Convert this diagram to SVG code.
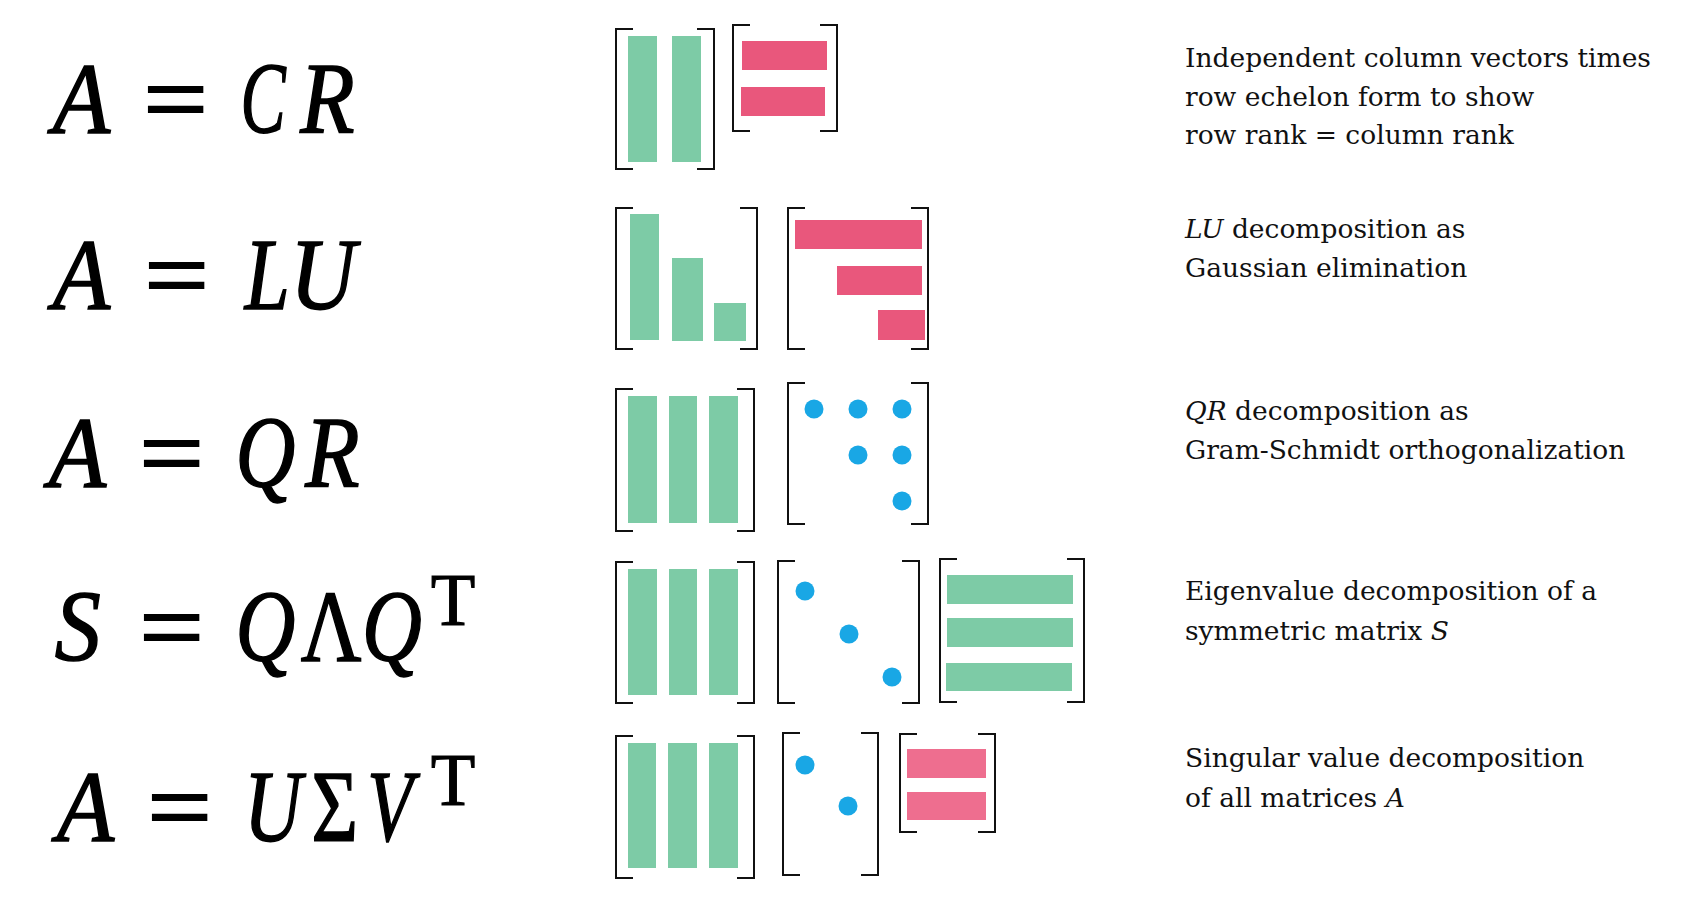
<svg xmlns="http://www.w3.org/2000/svg" width="1702" height="902" viewBox="0 0 1702 902">
<style>
.eq{font-family:"Liberation Serif",serif;font-style:italic;font-size:101px;fill:#000;stroke:#000;stroke-width:1.6}
.up{font-family:"Liberation Serif",serif;font-size:101px;fill:#000;stroke:#000;stroke-width:1.6}
.eqs{font-family:"Liberation Serif",serif;font-weight:bold;font-size:101px;fill:#000}
.sup{font-family:"Liberation Serif",serif;font-size:73px;fill:#000;stroke:#000;stroke-width:1}
.desc{font-family:"DejaVu Serif",serif;font-size:26.5px;fill:#111}
.it{font-style:italic}
.br{fill:none;stroke:#111;stroke-width:2}
.g{fill:#7DCBA6}
.p{fill:#E9577C}
.p2{fill:#EE6E8F}
.d{fill:#19A7E5}
</style>
<rect width="1702" height="902" fill="#fff"/>

<g id="row-CR">
  <g id="eq-CR">
    <text class="eq" transform="translate(52.8,133) scale(0.93,1)">A</text>
    <text class="eqs" transform="translate(142,133) scale(1.18,1)">=</text>
    <text class="eq" transform="translate(240.5,133) scale(0.67,1)">C</text>
    <text class="eq" transform="translate(300.3,133) scale(0.88,1)">R</text>
  </g>
  <g id="mat-C">
    <path class="br" d="M633,29 H616 V169 H633 M697,29 H714 V169 H697"/>
    <rect class="g" x="628" y="36" width="29" height="126"/>
    <rect class="g" x="672" y="36" width="29" height="126"/>
  </g>
  <g id="mat-R1">
    <path class="br" d="M750,25 H733 V131 H750 M820,25 H837 V131 H820"/>
    <rect class="p" x="742" y="41" width="85" height="29"/>
    <rect class="p" x="741" y="87" width="84" height="29"/>
  </g>
  <text class="desc" x="1185" y="67">Independent column vectors times</text>
  <text class="desc" x="1185" y="106">row echelon form to show</text>
  <text class="desc" x="1185" y="144">row rank = column rank</text>
</g>

<g id="row-LU">
  <g id="eq-LU">
    <text class="eq" transform="translate(52.8,309) scale(0.93,1)">A</text>
    <text class="eqs" transform="translate(143,309) scale(1.18,1)">=</text>
    <text class="eq" transform="translate(244.7,309) scale(0.8,1)">L</text>
    <text class="eq" transform="translate(290,309) scale(0.9,1)">U</text>
  </g>
  <g id="mat-L">
    <path class="br" d="M633,208 H616 V349 H633 M740,208 H757 V349 H740"/>
    <rect class="g" x="630" y="214" width="29" height="126"/>
    <rect class="g" x="672" y="258" width="31" height="83"/>
    <rect class="g" x="714" y="303" width="32" height="38"/>
  </g>
  <g id="mat-U">
    <path class="br" d="M805,208 H788 V349 H805 M911,208 H928 V349 H911"/>
    <rect class="p" x="795" y="220" width="127" height="29"/>
    <rect class="p" x="837" y="266" width="85" height="29"/>
    <rect class="p" x="878" y="310" width="47" height="30"/>
  </g>
  <text class="desc" x="1185" y="238"><tspan class="it">LU</tspan> decomposition as</text>
  <text class="desc" x="1185" y="277">Gaussian elimination</text>
</g>

<g id="row-QR">
  <g id="eq-QR">
    <text class="eq" transform="translate(48.8,487) scale(0.93,1)">A</text>
    <text class="eqs" transform="translate(138,487) scale(1.18,1)">=</text>
    <text class="eq" transform="translate(235.5,487) scale(0.82,1)">Q</text>
    <text class="eq" transform="translate(305.3,487) scale(0.88,1)">R</text>
  </g>
  <g id="mat-Q1">
    <path class="br" d="M633,389 H616 V531 H633 M737,389 H754 V531 H737"/>
    <rect class="g" x="628" y="396" width="29" height="127"/>
    <rect class="g" x="669" y="396" width="28" height="127"/>
    <rect class="g" x="709" y="396" width="29" height="127"/>
  </g>
  <g id="mat-R2">
    <path class="br" d="M805,383 H788 V524 H805 M911,383 H928 V524 H911"/>
    <circle class="d" cx="814" cy="409" r="9.5"/>
    <circle class="d" cx="858" cy="409" r="9.5"/>
    <circle class="d" cx="902" cy="409" r="9.5"/>
    <circle class="d" cx="858" cy="455" r="9.5"/>
    <circle class="d" cx="902" cy="455" r="9.5"/>
    <circle class="d" cx="902" cy="501" r="9.5"/>
  </g>
  <text class="desc" x="1185" y="420"><tspan class="it">QR</tspan> decomposition as</text>
  <text class="desc" x="1185" y="459">Gram-Schmidt orthogonalization</text>
</g>

<g id="row-QLQT">
  <g id="eq-QLQT">
    <text class="eq" transform="translate(54.8,661) scale(0.91,1)">S</text>
    <text class="eqs" transform="translate(138,661) scale(1.18,1)">=</text>
    <text class="eq" transform="translate(235.5,661) scale(0.82,1)">Q</text>
    <text class="up" transform="translate(300.8,661) scale(0.83,1)">Λ</text>
    <text class="eq" transform="translate(362,661) scale(0.82,1)">Q</text>
    <text class="sup" x="430.8" y="625">T</text>
  </g>
  <g id="mat-Q2">
    <path class="br" d="M633,562 H616 V703 H633 M737,562 H754 V703 H737"/>
    <rect class="g" x="628" y="569" width="29" height="126"/>
    <rect class="g" x="669" y="569" width="28" height="126"/>
    <rect class="g" x="709" y="569" width="29" height="126"/>
  </g>
  <g id="mat-Lambda">
    <path class="br" d="M795,561 H778 V703 H795 M902,561 H919 V703 H902"/>
    <circle class="d" cx="805" cy="591" r="9.5"/>
    <circle class="d" cx="849" cy="634" r="9.5"/>
    <circle class="d" cx="892" cy="677" r="9.5"/>
  </g>
  <g id="mat-QT">
    <path class="br" d="M957,559 H940 V702 H957 M1067,559 H1084 V702 H1067"/>
    <rect class="g" x="947" y="575" width="126" height="29"/>
    <rect class="g" x="947" y="618" width="126" height="29"/>
    <rect class="g" x="946" y="663" width="126" height="28"/>
  </g>
  <text class="desc" x="1185" y="600">Eigenvalue decomposition of a</text>
  <text class="desc" x="1185" y="640">symmetric matrix <tspan class="it">S</tspan></text>
</g>

<g id="row-SVD">
  <g id="eq-SVD">
    <text class="eq" transform="translate(56.8,841) scale(0.93,1)">A</text>
    <text class="eqs" transform="translate(146,841) scale(1.18,1)">=</text>
    <text class="eq" transform="translate(243.9,841) scale(0.79,1)">U</text>
    <text class="up" transform="translate(311.4,841) scale(0.79,1)">Σ</text>
    <text class="eq" transform="translate(367.3,841) scale(0.74,1)">V</text>
    <text class="sup" x="430.8" y="805">T</text>
  </g>
  <g id="mat-U2">
    <path class="br" d="M633,736 H616 V878 H633 M737,736 H754 V878 H737"/>
    <rect class="g" x="628" y="743" width="28" height="125"/>
    <rect class="g" x="668" y="743" width="29" height="125"/>
    <rect class="g" x="709" y="743" width="29" height="125"/>
  </g>
  <g id="mat-Sigma">
    <path class="br" d="M800,733 H783 V875 H800 M861,733 H878 V875 H861"/>
    <circle class="d" cx="805" cy="765" r="9.5"/>
    <circle class="d" cx="848" cy="806" r="9.5"/>
  </g>
  <g id="mat-VT">
    <path class="br" d="M917,734 H900 V832 H917 M978,734 H995 V832 H978"/>
    <rect class="p2" x="907" y="749" width="79" height="29"/>
    <rect class="p2" x="907" y="792" width="79" height="28"/>
  </g>
  <text class="desc" x="1185" y="767">Singular value decomposition</text>
  <text class="desc" x="1185" y="807">of all matrices <tspan class="it">A</tspan></text>
</g>
</svg>
